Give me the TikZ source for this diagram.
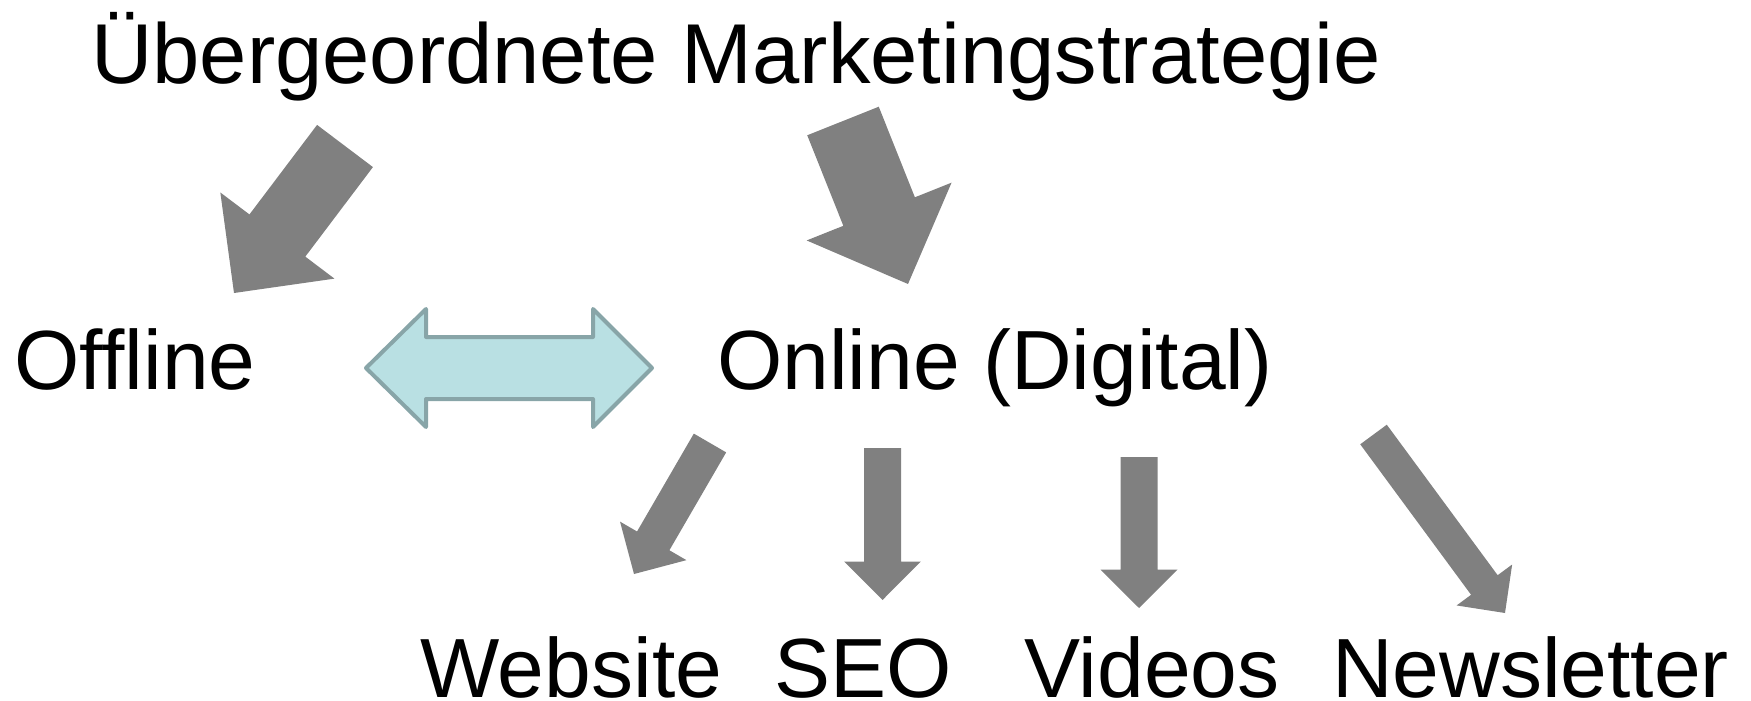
\documentclass[tikz,border=0pt]{standalone}
\usepackage{fontspec}
\setmainfont{Liberation Sans}
\usepackage{tikz}
\usepackage{xcolor}
\usetikzlibrary{calc}
\definecolor{arrowgray}{HTML}{808080}
\definecolor{linkfill}{HTML}{B9E0E3}
\definecolor{linkline}{HTML}{88A5A8}
\tikzstyle{term} = [inner sep=0pt, anchor=base west, font=\fontsize{84}{100}\selectfont]
\tikzstyle{fat} = [fill=arrowgray, draw=none]
\tikzstyle{link} = [fill=linkfill, draw=linkline, line width=4pt, line join=round]
% block arrow: tail, tip, half shaft, half head, head length
\newcommand{\fatarrow}[5]{%
  \coordinate (hb) at ($(#2)!#5!(#1)$);
  \fill[fat] ($(#1)!#3!90:(#2)$) -- ($(hb)!#3!90:(#2)$) -- ($(hb)!#4!90:(#2)$)
    -- (#2) -- ($(hb)!#4!-90:(#2)$) -- ($(hb)!#3!-90:(#2)$) -- ($(#1)!#3!-90:(#2)$) -- cycle;
}

\begin{document}
\begin{tikzpicture}[x=1pt, y=-1pt]
\useasboundingbox (0,0) rectangle (1751,701);
\node (title) [term, font=\fontsize{85}{100}\selectfont] at (91,83) {Übergeordnete Marketingstrategie};
\node (offline) [term] at (14,389) {Offline};
\node (online) [term] at (717,389) {Online (Digital)};
\node (website) [term] at (420,697) {Website};
\node (seo) [term] at (774,697) {SEO};
\node (videos) [term] at (1024,697) {Videos};
\node (newsletter) [term] at (1332,697) {Newsletter};

\coordinate (off-s) at (345,146);
\coordinate (off-e) at (234,293);
\coordinate (on-s) at (843,121);
\coordinate (on-e) at (908,284);
\coordinate (web-s) at (710,443);
\coordinate (web-e) at (634,574);
\coordinate (seo-s) at (882.5,448);
\coordinate (seo-e) at (882.5,600);
\coordinate (vid-s) at (1139,457);
\coordinate (vid-e) at (1139,608);
\coordinate (news-s) at (1373.5,434.5);
\coordinate (news-e) at (1505,613);
\coordinate (link) at (509,368);

\fatarrow{off-s}{off-e}{35pt}{71.5pt}{72pt}
\fatarrow{on-s}{on-e}{38.5pt}{78pt}{78pt}
\fatarrow{web-s}{web-e}{18.7pt}{38.4pt}{38.3pt}
\fatarrow{seo-s}{seo-e}{18.5pt}{38.3pt}{38.5pt}
\fatarrow{vid-s}{vid-e}{18.5pt}{38.5pt}{38.3pt}
\fatarrow{news-s}{news-e}{16.5pt}{34.5pt}{34.8pt}

\draw [link] ($(link)+(-143,0)$) -- ($(link)+(-83,-59)$) -- ($(link)+(-83,-31)$)
  -- ($(link)+(84,-31)$) -- ($(link)+(84,-59)$) -- ($(link)+(143,0)$)
  -- ($(link)+(84,59)$) -- ($(link)+(84,31)$) -- ($(link)+(-83,31)$)
  -- ($(link)+(-83,59)$) -- cycle;
\end{tikzpicture}
\end{document}
